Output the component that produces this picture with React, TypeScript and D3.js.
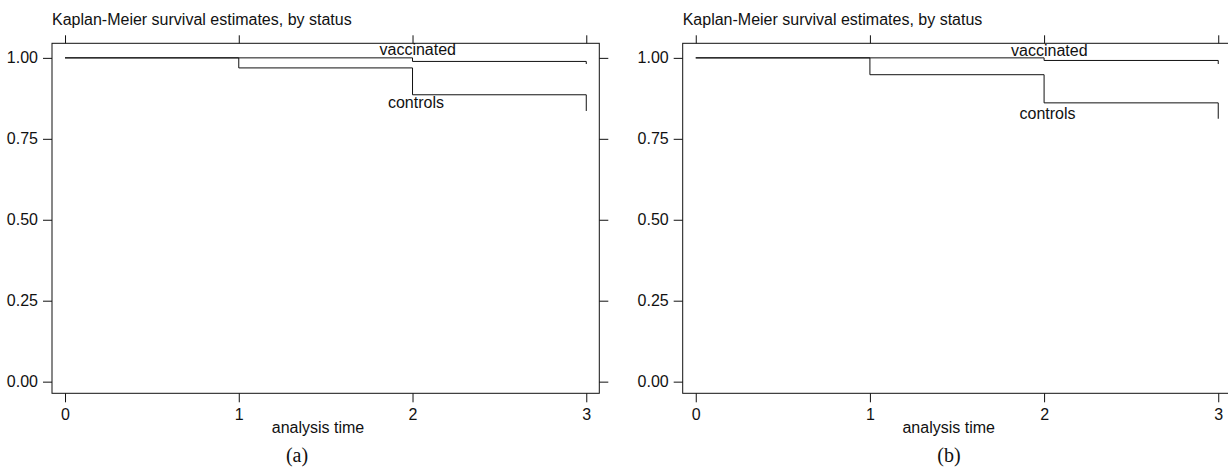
import React, { useEffect, useRef } from 'react';
import * as d3 from 'd3';

// analysis time points (KM steps)
const times = [0, 1, 2, 3];
const vaccinatedA = [1.0, 1.0, 0.989, 0.981];
const controlsA = [1.0, 0.969, 0.886, 0.836];
const vaccinatedB = [1.0, 1.0, 0.992, 0.981];
const controlsB = [1.0, 0.948, 0.861, 0.812];

const xTicks = [0, 1, 2, 3];
const yTicks = [0, 0.25, 0.5, 0.75, 1];
const title = 'Kaplan-Meier survival estimates, by status';
const xTitle = 'analysis time';
const seriesNames = ['vaccinated', 'controls'];

// label anchors in data units [time, survival]
const labelPosA = [[2.03, 1.008], [2.02, 0.846]];
const labelPosB = [[2.03, 1.006], [2.02, 0.812]];

const FONT = '"Liberation Sans", Arial, Helvetica, sans-serif';

function KMPanel({ svgRef, left, right, series, labelPos, caption, captionX }) {
    useEffect(() => {
        const svg = d3.select(svgRef.current);
        const top = 43.3;
        const bottom = 393.3;

        const g = svg.append('g');

        const x = d3.scaleLinear().domain([-0.075, 3.075]).range([left, right]);
        const y = d3.scaleLinear().domain([-0.036, 1.045]).range([bottom, top]);

        // title
        g.append('text')
            .attr('x', left)
            .attr('y', 25)
            .attr('font-family', FONT)
            .attr('font-size', 16)
            .attr('fill', '#111')
            .text(title);

        // frame
        g.append('rect')
            .attr('x', left)
            .attr('y', top)
            .attr('width', right - left)
            .attr('height', bottom - top)
            .attr('fill', 'none')
            .attr('stroke', '#111')
            .attr('stroke-width', 1);

        const styleAxis = ax => {
            ax.select('.domain').remove();
            ax.selectAll('.tick line').attr('stroke', '#111');
            ax.selectAll('text')
                .attr('font-family', FONT)
                .attr('font-size', 16)
                .attr('fill', '#111');
        };

        // left axis
        g.append('g')
            .attr('transform', `translate(${left},0)`)
            .call(d3.axisLeft(y).tickValues(yTicks).tickFormat(d3.format('.2f')).tickSize(9).tickPadding(5))
            .call(styleAxis);

        // right axis (ticks only)
        g.append('g')
            .attr('transform', `translate(${right},0)`)
            .call(d3.axisRight(y).tickValues(yTicks).tickFormat(() => '').tickSize(9))
            .call(styleAxis);

        // top axis (ticks only)
        g.append('g')
            .attr('transform', `translate(0,${top})`)
            .call(d3.axisTop(x).tickValues(xTicks).tickFormat(() => '').tickSize(8))
            .call(styleAxis);

        // bottom axis
        g.append('g')
            .attr('transform', `translate(0,${bottom})`)
            .call(d3.axisBottom(x).tickValues(xTicks).tickFormat(d3.format('d')).tickSize(9))
            .call(styleAxis)
            .call(ax => ax.selectAll('text').attr('y', 27).attr('dy', 0));

        g.append('text')
            .attr('x', left + 266)
            .attr('y', 433)
            .attr('text-anchor', 'middle')
            .attr('font-family', FONT)
            .attr('font-size', 16)
            .attr('fill', '#111')
            .text(xTitle);

        const line = d3.line()
            .x(d => x(d[0]))
            .y(d => y(d[1]))
            .curve(d3.curveStepAfter);

        series.forEach(vals => {
            g.append('path')
                .datum(times.map((t, i) => [t, vals[i]]))
                .attr('fill', 'none')
                .attr('stroke', '#111')
                .attr('stroke-width', 1)
                .attr('d', line);
        });

        seriesNames.forEach((name, i) => {
            g.append('text')
                .attr('x', x(labelPos[i][0]))
                .attr('y', y(labelPos[i][1]))
                .attr('text-anchor', 'middle')
                .attr('font-family', FONT)
                .attr('font-size', 16)
                .attr('fill', '#111')
                .text(name);
        });

        g.append('text')
            .attr('x', captionX)
            .attr('y', 462)
            .attr('text-anchor', 'middle')
            .attr('font-family', '"Liberation Serif", "Times New Roman", serif')
            .attr('font-size', 20)
            .attr('fill', '#111')
            .text(caption);

        return () => { g.remove(); };
    }, [svgRef, left, right, series, labelPos, caption, captionX]);

    return null;
}

export default function App() {
    const svgRef = useRef(null);
    return (
        <svg
            ref={svgRef}
            width={1228}
            height={471}
            style={{ position: 'absolute', left: 0, top: 0, background: '#fff' }}
        >
            <KMPanel svgRef={svgRef} left={52} right={599.3}
                series={[vaccinatedA, controlsA]} labelPos={labelPosA}
                caption="(a)" captionX={297} />
            <KMPanel svgRef={svgRef} left={682.7} right={1231.3}
                series={[vaccinatedB, controlsB]} labelPos={labelPosB}
                caption="(b)" captionX={949} />
        </svg>
    );
}
